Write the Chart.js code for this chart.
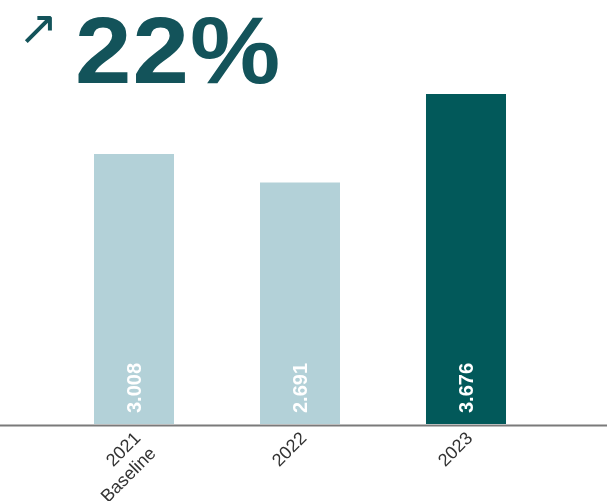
<!DOCTYPE html>
<html lang="de">
<head>
    <meta charset="UTF-8">
    <title>22%</title>
    <script src="https://cdn.jsdelivr.net/npm/chart.js"></script>
    <style>
        html, body {
            margin: 0;
            padding: 0;
            background: #fff;
            overflow: hidden;
        }
        .wrap {
            position: relative;
            width: 607px;
            height: 501px;
        }
        .headline {
            position: absolute;
            left: 0;
            top: 0;
            color: #13535a;
            z-index: 2;
        }
        .arrow {
            position: absolute;
            left: 18px;
            top: 3px;
            font-family: "DejaVu Sans", sans-serif;
            font-size: 48px;
            line-height: 1;
        }
        .big {
            position: absolute;
            left: 75px;
            top: 4px;
            font-family: "Liberation Sans", Arial, sans-serif;
            font-weight: bold;
            font-size: 94px;
            line-height: 1;
            letter-spacing: 1px;
            white-space: nowrap;
            transform: scaleX(1.08);
            transform-origin: left top;
        }
    </style>
</head>
<body>
    <div class="wrap">
        <div class="headline">
            <span class="arrow">↗</span>
            <span class="big">22%</span>
        </div>
        <canvas id="chart" width="607" height="501"></canvas>
    </div>

    <script>
        // Daten
        const categories = [['2021', 'Baseline'], '2022', '2023'];
        const values = [3008, 2691, 3676];
        const barColors = ['#b3d1d8', '#b3d1d8', '#02595a'];

        // Werte unten im Balken, gedreht
        const valueLabels = {
            id: 'valueLabels',
            afterDatasetsDraw(chart) {
                const ctx = chart.ctx;
                const meta = chart.getDatasetMeta(0);
                ctx.save();
                ctx.fillStyle = '#ffffff';
                ctx.font = 'bold 20px "Liberation Sans", Arial, sans-serif';
                ctx.textAlign = 'left';
                ctx.textBaseline = 'middle';
                meta.data.forEach((bar, i) => {
                    ctx.save();
                    ctx.translate(bar.x, bar.base - 11);
                    ctx.rotate(-Math.PI / 2);
                    ctx.fillText(values[i].toLocaleString('de-DE'), 0, 1);
                    ctx.restore();
                });
                ctx.restore();
            }
        };

        // Grundlinie über die ganze Breite
        const baseLine = {
            id: 'baseLine',
            afterDraw(chart) {
                const ctx = chart.ctx;
                const y = chart.chartArea.bottom + 1.5;
                ctx.save();
                ctx.strokeStyle = '#7a7a7a';
                ctx.lineWidth = 2;
                ctx.beginPath();
                ctx.moveTo(0, y);
                ctx.lineTo(chart.width, y);
                ctx.stroke();
                ctx.restore();
            }
        };

        new Chart(document.getElementById('chart'), {
            type: 'bar',
            data: {
                labels: categories,
                datasets: [{
                    data: values,
                    backgroundColor: barColors,
                    borderWidth: 0,
                    barPercentage: 0.482,
                    categoryPercentage: 1
                }]
            },
            options: {
                responsive: false,
                animation: false,
                layout: {
                    padding: { top: 65, left: 51, right: 58, bottom: 0 }
                },
                plugins: {
                    legend: { display: false },
                    tooltip: { enabled: false }
                },
                scales: {
                    y: {
                        display: false,
                        min: 0,
                        max: 4000
                    },
                    x: {
                        grid: { display: false },
                        border: { display: false },
                        ticks: {
                            color: '#333333',
                            font: { family: '"Liberation Sans", Arial, sans-serif', size: 18 },
                            minRotation: 45,
                            maxRotation: 45,
                            padding: -4,
                            labelOffset: 4
                        },
                        afterFit(scale) {
                            scale.height = 77;
                        }
                    }
                }
            },
            plugins: [valueLabels, baseLine]
        });
    </script>
</body>
</html>
